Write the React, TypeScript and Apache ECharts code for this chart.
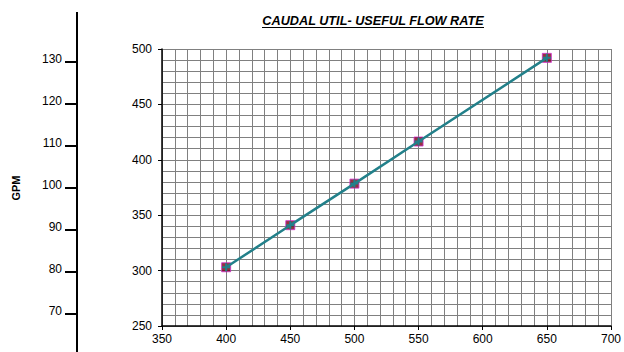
import React, { useEffect, useRef } from "react";
import * as echarts from "echarts";

const xValues = [400, 450, 500, 550, 650];
const flowValues = [303, 341, 378.5, 416.5, 492];
const gpmTicks = [70, 80, 90, 100, 110, 120, 130];
const titleText = "CAUDAL UTIL- USEFUL FLOW RATE";
const gpmName = "GPM";

export default function App() {
  const ref = useRef<HTMLDivElement>(null);
  useEffect(() => {
    if (!ref.current) return;
    const chart = echarts.init(ref.current, null, { renderer: "svg" });
    const pts = xValues.map((x, i) => [x, flowValues[i]]);
    const font = "Liberation Sans, Arial, sans-serif";
    const gridColor = "#808080";
    chart.setOption({
      animation: false,
      backgroundColor: "#ffffff",
      textStyle: { fontFamily: font },
      grid: [
        { left: 162, right: 10, top: 49, bottom: 26, containLabel: false },
        { left: 77, width: 10, top: 62, bottom: 38, containLabel: false },
      ],
      xAxis: [
        {
          type: "value",
          gridIndex: 0,
          min: 350,
          max: 700,
          interval: 50,
          axisLine: { show: true, onZero: false, lineStyle: { color: "#000", width: 1.5 } },
          axisTick: { show: true, length: 4, lineStyle: { color: "#000" } },
          axisLabel: { margin: 7, color: "#000", fontSize: 12, fontFamily: font },
          splitLine: { show: true, lineStyle: { color: gridColor, width: 1 } },
          minorTick: { show: false, splitNumber: 5 },
          minorSplitLine: { show: true, lineStyle: { color: gridColor, width: 1 } },
        },
        { type: "value", gridIndex: 1, show: false, min: 0, max: 1 },
      ],
      yAxis: [
        {
          type: "value",
          gridIndex: 0,
          min: 250,
          max: 500,
          interval: 50,
          axisLine: { show: true, onZero: false, lineStyle: { color: "#000", width: 1.5 } },
          axisTick: { show: true, length: 4, lineStyle: { color: "#000" } },
          axisLabel: { margin: 10, color: "#000", fontSize: 12, fontFamily: font },
          splitLine: { show: true, lineStyle: { color: gridColor, width: 1 } },
          minorTick: { show: false, splitNumber: 5 },
          minorSplitLine: { show: true, lineStyle: { color: gridColor, width: 1 } },
        },
        {
          type: "value",
          gridIndex: 1,
          min: gpmTicks[0],
          max: gpmTicks[gpmTicks.length - 1],
          interval: 10,
          position: "left",
          name: gpmName,
          nameLocation: "middle",
          nameRotate: 90,
          nameGap: 56,
          nameTextStyle: { color: "#000", fontWeight: "bold", fontSize: 11, fontFamily: font },
          axisLine: { show: false },
          axisTick: { show: true, length: 12, lineStyle: { color: "#000", width: 2 } },
          axisLabel: {
            margin: 15,
            color: "#000",
            fontSize: 12,
            fontFamily: font,
            verticalAlign: "bottom",
            lineHeight: 7,
          },
          splitLine: { show: false },
        },
      ],
      graphic: [
        {
          type: "line",
          shape: { x1: 77, y1: 12, x2: 77, y2: 352 },
          style: { stroke: "#000", lineWidth: 2 },
        },
        {
          type: "text",
          x: 373,
          y: 21,
          style: {
            text: titleText,
            fontFamily: font,
            fontSize: 12.7,
            fontWeight: "bold",
            fontStyle: "italic",
            fill: "#000",
            textAlign: "center",
            textVerticalAlign: "middle",
          },
        },
        {
          type: "line",
          shape: { x1: 262, y1: 27.5, x2: 484, y2: 27.5 },
          style: { stroke: "#000", lineWidth: 1 },
        },
      ],
      series: [
        {
          type: "scatter",
          xAxisIndex: 0,
          yAxisIndex: 0,
          data: pts,
          symbol: "rect",
          symbolSize: 9,
          itemStyle: { color: "#7a0010", borderColor: "#d030d0", borderWidth: 1 },
          z: 3,
        },
        {
          type: "line",
          xAxisIndex: 0,
          yAxisIndex: 0,
          data: pts,
          symbol: "path://M3,0H5V3H8V5H5V8H3V5H0V3H3Z",
          symbolSize: 8,
          lineStyle: { color: "#22808a", width: 2.5 },
          itemStyle: { color: "#22808a" },
          z: 4,
        },
      ],
    });
    return () => chart.dispose();
  }, []);
  return (
    <div
      ref={ref}
      style={{ position: "fixed", left: 0, top: 0, width: 624, height: 352 }}
    />
  );
}
